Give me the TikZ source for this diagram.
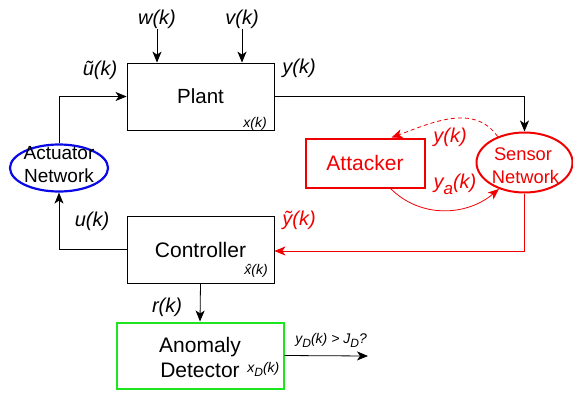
\documentclass[tikz,border=0pt]{standalone}
\usepackage{fontspec}
\setmainfont{Liberation Sans}
\usetikzlibrary{arrows.meta,shapes.geometric,calc}
\definecolor{agreen}{RGB}{30,230,30}
\definecolor{ablue}{RGB}{10,10,230}
\definecolor{ared}{RGB}{240,0,0}
\newcommand{\mysub}[1]{{\fontsize{12}{12}\selectfont\raisebox{-4pt}{#1}}}
\begin{document}
\begin{tikzpicture}[x=1pt,y=-1pt,
 line width=0.8pt,
 box/.style={draw,rectangle,inner sep=0pt},
 arr/.style={-{Stealth[length=11pt,width=9pt,inset=3pt]}},
 lbl/.style={font=\fontsize{20}{22}\selectfont\itshape, anchor=base, inner sep=0pt},
 sml/.style={font=\fontsize{14}{16}\selectfont\itshape, anchor=base, inner sep=0pt},
 txt/.style={anchor=base, inner sep=0pt}]
\useasboundingbox (0,0) rectangle (573,397);

% blocks
\node[box, minimum width=147pt, minimum height=67pt, font=\fontsize{20.5}{24}\selectfont] (plant) at (200.5,96.5) {Plant};
\node[box, minimum width=147pt, minimum height=67pt, font=\fontsize{21}{24}\selectfont] (ctrl) at (200.5,249.5) {Controller};
\node[box, draw=agreen, line width=2pt, minimum width=167pt, minimum height=66pt] (anom) at (200,355.5) {};
\node[box, draw=ared, line width=2pt, minimum width=119pt, minimum height=49pt, text=ared, font=\fontsize{21}{24}\selectfont] (att) at (365,163) {Attacker};
\node[ellipse, draw=ablue, line width=2.2pt, minimum width=98pt, minimum height=47pt, inner sep=0pt] (act) at (59,168) {};
\node[ellipse, draw=ared, line width=2pt, minimum width=96pt, minimum height=60pt, inner sep=0pt] (sensor) at (524.5,162.5) {};

% texts in shapes
\node[txt, font=\fontsize{19}{22}\selectfont] (actA) at (59,159) {Actuator};
\node[txt, font=\fontsize{19}{22}\selectfont] (actB) at (59,182) {Network};
\node[txt, text=ared, font=\fontsize{18.3}{22}\selectfont] (senA) at (523,160) {Sensor};
\node[txt, text=ared, font=\fontsize{18.3}{22}\selectfont] (senB) at (525.5,183) {Network};
\node[txt, font=\fontsize{21}{24}\selectfont] (anA) at (200,352) {Anomaly};
\node[txt, font=\fontsize{21}{24}\selectfont] (anB) at (200,377) {Detector};
\node[sml, anchor=base west] (xD) at (247,372) {x\mysub{D}(k)};
\node[sml] (xk) at (255,127) {x(k)};
\node[sml] (xh) at (256,274) {\^x(k)};

% labels
\node[lbl] (w) at (157,24) {w(k)};
\node[lbl] (v) at (242,24) {v(k)};
\node[lbl] (ut) at (100,75) {ũ(k)};
\node[lbl] (y) at (299,73) {y(k)};
\node[lbl, text=ared] (yatt) at (450,142) {y(k)};
\node[lbl, text=ared] (ya) at (455,188) {y{\fontsize{17}{17}\selectfont\raisebox{-6pt}{a}}(k)};
\node[lbl, text=ared] (yt) at (299,225) {ỹ(k)};
\node[lbl] (u) at (92,226) {u(k)};
\node[lbl] (r) at (167,312) {r(k)};
\node[sml, anchor=base west] (yd) at (295,343) {y\mysub{D}(k) > J\mysub{D}?};

% connectors
\draw[arr] (w.south) -- (w.south |- plant.north);
\draw[arr] (v.south) -- (v.south |- plant.north);
\draw[arr] (act.north) |- (plant.west);
\draw[arr] (plant.east) -| (sensor.north);
\draw[arr, ared] (sensor.south) |- ([yshift=-1.5pt]ctrl.east);
\draw[arr] (ctrl.west) -| (act.south);
\draw[arr] (ctrl.south) -- (anom.north);
\coordinate (out) at (368,356);
\draw[arr] (anom.east) -- (out);
\draw[arr, ared, dash pattern=on 4pt off 3pt] (sensor.136) to[out=125,in=20] ([xshift=-34pt]att.north east);
\draw[arr, ared] ([xshift=-35pt]att.south east) to[out=-45,in=-140] (sensor.226);
\end{tikzpicture}
\end{document}
